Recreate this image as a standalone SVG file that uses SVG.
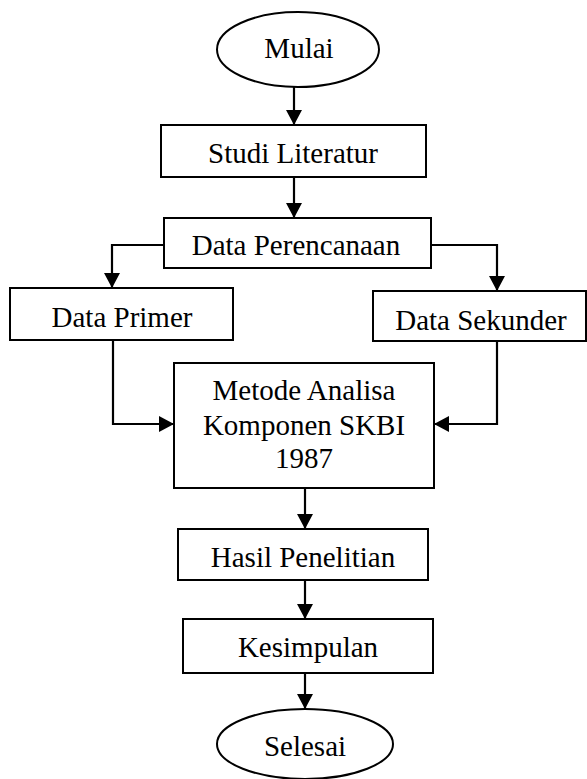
<svg xmlns="http://www.w3.org/2000/svg" width="587" height="779" viewBox="0 0 587 779">
<style>
.shape{fill:#fff;stroke:#000;stroke-width:2}
.conn{fill:none;stroke:#000;stroke-width:2.2}
text{font-family:"Liberation Serif","Times New Roman",serif;font-size:29px;fill:#000;text-anchor:middle}
</style>
<defs>
<marker id="ah" markerUnits="userSpaceOnUse" markerWidth="16" markerHeight="16" refX="15" refY="8" orient="auto">
<path d="M0,0 L15,8 L0,16 z" fill="#000"/>
</marker>
</defs>
<rect width="587" height="779" fill="#fff"/>
<g id="connectors">
<path class="conn" d="M294,87 V125" marker-end="url(#ah)"/>
<path class="conn" d="M294,177 V218" marker-end="url(#ah)"/>
<path class="conn" d="M164,245 H112 V288" marker-end="url(#ah)"/>
<path class="conn" d="M431,245 H497 V291" marker-end="url(#ah)"/>
<path class="conn" d="M113,340 V424 H174" marker-end="url(#ah)"/>
<path class="conn" d="M497,341 V424 H434" marker-end="url(#ah)"/>
<path class="conn" d="M305,488 V529" marker-end="url(#ah)"/>
<path class="conn" d="M305,580 V619" marker-end="url(#ah)"/>
<path class="conn" d="M305,673 V709" marker-end="url(#ah)"/>
</g>
<g id="mulai">
<ellipse class="shape" cx="298" cy="49.5" rx="81" ry="37.5"/>
<text x="299" y="58">Mulai</text>
</g>
<g id="studi-literatur">
<rect class="shape" x="161" y="125" width="265" height="52"/>
<text x="293" y="163">Studi Literatur</text>
</g>
<g id="data-perencanaan">
<rect class="shape" x="164" y="218" width="267" height="50"/>
<text x="296" y="255">Data Perencanaan</text>
</g>
<g id="data-primer">
<rect class="shape" x="10" y="288" width="223" height="52"/>
<text x="122" y="327">Data Primer</text>
</g>
<g id="data-sekunder">
<rect class="shape" x="373" y="291" width="213" height="50"/>
<text x="481" y="330">Data Sekunder</text>
</g>
<g id="metode">
<rect class="shape" x="174" y="363" width="260" height="125"/>
<text x="304" y="400">Metode Analisa</text>
<text x="304" y="435">Komponen SKBI</text>
<text x="304" y="468">1987</text>
</g>
<g id="hasil-penelitian">
<rect class="shape" x="178" y="529" width="250" height="51"/>
<text x="303" y="567">Hasil Penelitian</text>
</g>
<g id="kesimpulan">
<rect class="shape" x="183" y="619" width="250" height="54"/>
<text x="308" y="657">Kesimpulan</text>
</g>
<g id="selesai">
<ellipse class="shape" cx="305" cy="744" rx="88" ry="35"/>
<text x="305" y="756">Selesai</text>
</g>
</svg>
